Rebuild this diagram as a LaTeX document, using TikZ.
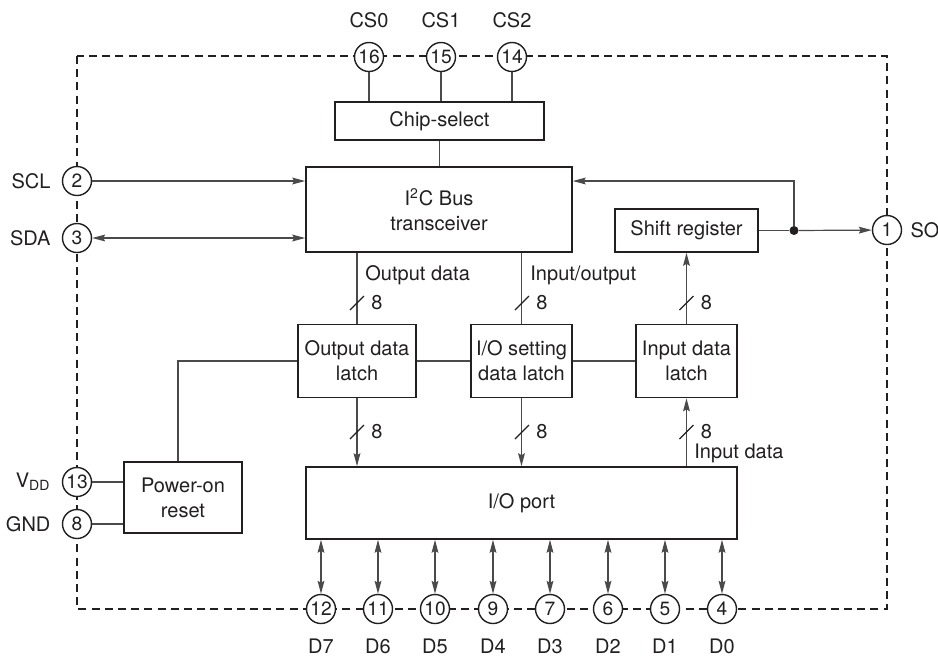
\documentclass[tikz,border=0pt]{standalone}
\usepackage{fontspec}
\setmainfont{TeX Gyre Heros}
\usetikzlibrary{arrows.meta,calc,positioning}
\definecolor{icInk}{HTML}{231F20}
\definecolor{icWire}{HTML}{4A4A4A}
\tikzset{
 chip/.style={font=\fontsize{10}{12.5}\selectfont,text=icInk,line join=miter},
 block/.style={rectangle,draw=icInk,fill=white,line width=.8pt,align=center,inner sep=2pt},
 pin/.style={circle,draw=icInk,fill=white,line width=.7pt,inner sep=0pt,minimum size=14.5pt,font=\fontsize{9.6}{10}\selectfont},
 pinname/.style={inner sep=2pt},
 border/.style={draw=icInk,line width=.7pt,dash pattern=on 4pt off 2.6pt},
 wire/.style={draw=icWire,line width=.6pt},
 sig/.style={wire,-{Stealth[length=6.5pt,width=3.4pt,inset=1pt]}},
 sigboth/.style={wire,{Stealth[length=6.5pt,width=3.4pt,inset=1pt]}-{Stealth[length=6.5pt,width=3.4pt,inset=1pt]}},
 slash/.style={draw=icInk,line width=.6pt},
 buslabel/.style={anchor=west,inner sep=1pt},
 dot/.style={circle,fill=icInk,inner sep=0pt,minimum size=4.5pt}
}

\begin{document}
\begin{tikzpicture}[chip,x=.5pt,y=-.5pt]
 \useasboundingbox (0,0) rectangle (938,655);
 \draw[border] (77,56) rectangle (887,609);
 \foreach \n/\x/\t in {16/369/CS0,15/441/CS1,14/512/CS2}{
   \node[pin] (p\n) at (\x,57) {\n};
   \node[pinname,above=5pt of p\n] (n\n) {\t};}
 \foreach \n/\x/\t in {12/321/D7,11/378/D6,10/435/D5,9/493/D4,7/550/D3,6/608/D2,5/665/D1,4/722/D0}{
   \node[pin] (p\n) at (\x,609) {\n};
   \node[pinname,below=5pt of p\n] (n\n) {\t};}
 \foreach \n/\y/\t in {2/181/SCL,3/238/SDA,13/482/V\textsubscript{DD},8/524/GND}{
   \node[pin] (p\n) at (77,\y) {\n};
   \node[pinname,left=3.5pt of p\n] (n\n) {\t};}
 \node[pin] (p1) at (887,230) {1};
 \node[pinname,right=2pt of p1] (n1) {SO};
 \node[block,minimum width=104.5pt,minimum height=19pt] (csBox) at (439.5,121) {Chip-select};
 \node[block,minimum width=133pt,minimum height=42.5pt] (busBox) at (439,209.5) {I\textsuperscript{2}C Bus\\transceiver};
 \node[block,minimum width=71.5pt,minimum height=21.5pt] (shiftBox) at (686.5,230.5) {Shift register};
 \node[block,minimum width=59pt,minimum height=36.5pt] (outLatch) at (357,361) {Output data\\latch};
 \node[block,minimum width=50.5pt,minimum height=36.5pt] (setLatch) at (521.5,361) {I/O setting\\data latch};
 \node[block,minimum width=50.5pt,minimum height=36.5pt] (inLatch) at (686.5,361) {Input data\\latch};
 \node[block,minimum width=59pt,minimum height=35.5pt] (porBox) at (183,497.5) {Power-on\\reset};
 \node[block,minimum width=215.5pt,minimum height=36pt] (portBox) at (521.5,503) {I/O port};
 \node[dot] (jn) at (794,230.5) {};
 \foreach \n in {16,15,14}{\draw[wire] (p\n) -- (p\n |- csBox.north);}
 \draw[wire] (csBox.south) -- (csBox.south |- busBox.north);
 \draw[sig] (p2) -- (p2 -| busBox.west);
 \draw[sigboth] (p3) -- (p3 -| busBox.west);
 \draw[wire] (shiftBox.east) -- (jn);
 \draw[sig] (jn) -- (p1);
 \draw[sig] (jn) |- (p2 -| busBox.east);
 \draw[wire] (busBox.south -| outLatch.north) -- (outLatch.north);
 \draw[wire] (busBox.south -| setLatch.north) -- (setLatch.north);
 \draw[sig] (inLatch.north) -- (shiftBox.south);
 \draw[wire] (outLatch.east) -- (setLatch.west);
 \draw[wire] (setLatch.east) -- (inLatch.west);
 \draw[wire] ([xshift=-2.5pt]porBox.north) |- (outLatch.west);
 \draw[wire] (p13) -- (p13 -| porBox.west);
 \draw[wire] (p8) -- (p8 -| porBox.west);
 \draw[sig] (outLatch.south) -- (outLatch.south |- portBox.north);
 \draw[sig] (setLatch.south) -- (setLatch.south |- portBox.north);
 \draw[sig] (inLatch.south |- portBox.north) -- (inLatch.south);
 \foreach \n in {12,11,10,9,7,6,5,4}{\draw[sigboth] (portBox.south -| p\n) -- (p\n);}
 \node[buslabel] (tOut) at (363,275) {Output data};
 \node[buslabel] (tSet) at (528,275) {Input/output};
 \node[buslabel] (tIn) at (692,453) {Input data};
 \foreach \s/\x/\y in {a/357/303,b/522/303,c/686.5/303,d/357/432,e/522/432,f/686.5/432}{
   \coordinate (s\s) at (\x,\y);
   \draw[slash] ($(s\s)+(-7,7)$) -- ($(s\s)+(7,-7)$);
   \node[buslabel,right=6pt of s\s] (w\s) {8};}
\end{tikzpicture}
\end{document}
